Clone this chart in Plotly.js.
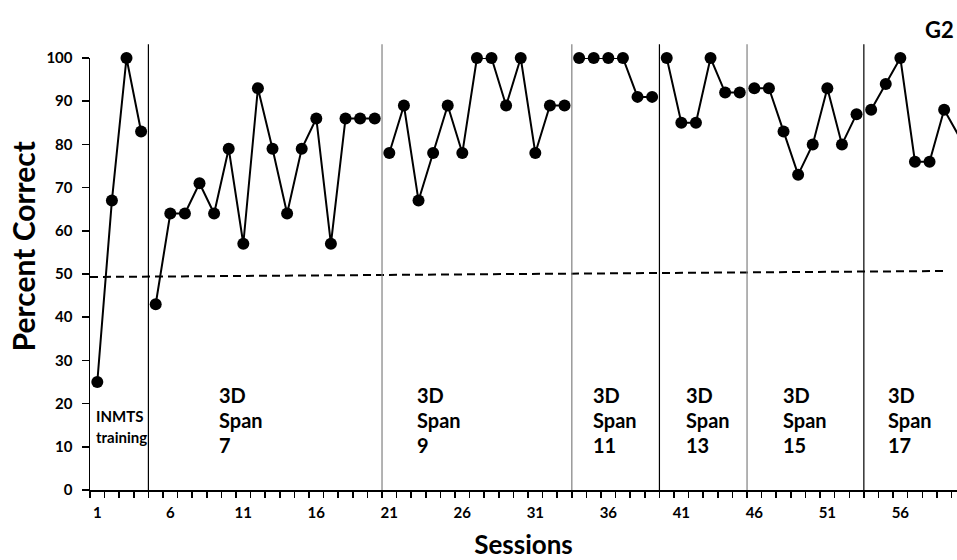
<!DOCTYPE html>
<html>
<head>
<meta charset="utf-8">
<script src="https://cdn.plot.ly/plotly-3.0.1.min.js"></script>
<style>
  html, body { margin: 0; padding: 0; background: #ffffff; }
  #chart { width: 957px; height: 560px; }
</style>
</head>
<body>
<div id="chart"></div>
<script>
// ---- Data ----
const sessions = [
  1, 2, 3, 4,
  5, 6, 7, 8, 9, 10, 11, 12, 13, 14, 15, 16, 17, 18, 19, 20,
  21, 22, 23, 24, 25, 26, 27, 28, 29, 30, 31, 32, 33,
  34, 35, 36, 37, 38, 39,
  40, 41, 42, 43, 44, 45,
  46, 47, 48, 49, 50, 51, 52, 53,
  54, 55, 56, 57, 58, 59, 60
];
const percentCorrect = [
  25, 67, 100, 83,
  43, 64, 64, 71, 64, 79, 57, 93, 79, 64, 79, 86, 57, 86, 86, 86,
  78, 89, 67, 78, 89, 78, 100, 100, 89, 100, 78, 89, 89,
  100, 100, 100, 100, 91, 91,
  100, 85, 85, 100, 92, 92,
  93, 93, 83, 73, 80, 93, 80, 87,
  88, 94, 100, 76, 76, 88, 82
];
// phase change lines (between sessions)
const phaseBounds = [4.5, 20.5, 33.5, 39.5, 45.5, 53.5];
const phaseLabels = [
  ['INMTS', 'training'],
  ['3D', 'Span', '7'],
  ['3D', 'Span', '9'],
  ['3D', 'Span', '11'],
  ['3D', 'Span', '13'],
  ['3D', 'Span', '15'],
  ['3D', 'Span', '17']
];
const chanceX = [0.5, 59.2];
const chanceY = [49.3, 50.7];
const xTickStart = 1, xTickStep = 5;
const yTickStep = 10;
const panelTitle = 'G2';
const xTitle = 'Sessions';
const yTitle = 'Percent Correct';

// ---- Layout helpers (positions / styles) ----
const FONT = 'Lato, "Open Sans", sans-serif';
const labelLeftX = [0.79, 9.22, 22.78, 34.81, 41.2, 47.85, 55.02];
const labelLineY3 = [22.1, 16.3, 10.5];
const labelLineY2 = [17.2, 12.2];
const boundColors = ['#000000', '#808080', '#808080', '#000000', '#808080', '#000000'];

// split data into phase segments (lines do not connect across phases)
const traces = [];
const edges = [-Infinity].concat(phaseBounds, [Infinity]);
for (let p = 0; p < edges.length - 1; p++) {
  const xs = [], ys = [];
  sessions.forEach((s, i) => {
    if (s > edges[p] && s < edges[p + 1]) { xs.push(s); ys.push(percentCorrect[i]); }
  });
  traces.push({
    x: xs, y: ys, type: 'scatter', mode: 'lines+markers',
    line: { color: '#000000', width: 2 },
    marker: { color: '#000000', size: 12 },
    cliponaxis: false, showlegend: false, hoverinfo: 'x+y'
  });
}
traces.push({
  x: chanceX, y: chanceY, type: 'scatter', mode: 'lines',
  line: { color: '#000000', width: 2, dash: '8px,5px' },
  showlegend: false, hoverinfo: 'skip'
});

const shapes = phaseBounds.map((b, i) => ({
  type: 'line', xref: 'x', yref: 'paper',
  x0: b, x1: b, y0: 0, y1: 1.032,
  line: { color: boundColors[i], width: 1.2 }
}));

const annotations = [];
phaseLabels.forEach((lines, i) => {
  const ys = lines.length === 2 ? labelLineY2 : labelLineY3;
  const size = lines.length === 2 ? 15 : 20;
  lines.forEach((t, j) => {
    annotations.push({
      text: t, x: labelLeftX[i], y: ys[j], xref: 'x', yref: 'y',
      xanchor: 'left', yanchor: 'middle', showarrow: false,
      font: { family: FONT, size: size, color: '#000000', weight: 'bold' }
    });
  });
});
annotations.push({
  text: panelTitle, xref: 'paper', yref: 'paper',
  x: 0.961, y: 1.066, xanchor: 'left', yanchor: 'middle', showarrow: false,
  font: { family: FONT, size: 22, color: '#000000', weight: 'bold' }
});
annotations.push({
  text: yTitle, xref: 'paper', yref: 'paper', textangle: -90,
  x: -0.0779, y: 0.565, xanchor: 'center', yanchor: 'middle', showarrow: false,
  font: { family: FONT, size: 30, color: '#000000', weight: 'bold' }
});

const layout = {
  width: 957, height: 560,
  margin: { l: 90, r: 0, t: 58, b: 70, pad: 0 },
  paper_bgcolor: '#ffffff', plot_bgcolor: '#ffffff',
  font: { family: FONT, color: '#000000' },
  xaxis: {
    range: [0.5, 59.88], showline: true, linecolor: '#000000', linewidth: 1.5,
    showgrid: false, zeroline: false, automargin: false,
    tickmode: 'linear', tick0: xTickStart, dtick: xTickStep,
    ticks: 'outside', ticklen: 8, tickcolor: 'rgba(0,0,0,0)',
    tickfont: { family: FONT, size: 15, color: '#000000', weight: 'bold' },
    minor: { ticks: 'outside', ticklen: 6, tickwidth: 1.5, tickcolor: '#000000', tick0: 0.5, dtick: 1, showgrid: false },
    title: { text: xTitle, standoff: 18, font: { family: FONT, size: 26, color: '#000000', weight: 'bold' } }
  },
  yaxis: {
    range: [0, 100], showline: true, linecolor: '#000000', linewidth: 1.5,
    showgrid: false, zeroline: false, automargin: false,
    tickmode: 'linear', tick0: 0, dtick: yTickStep,
    ticks: 'outside', ticklen: 7, tickwidth: 1.5, tickcolor: '#000000',
    ticklabelstandoff: 6,
    tickfont: { family: FONT, size: 15, color: '#000000', weight: 'bold' }
  },
  shapes: shapes,
  annotations: annotations
};

Plotly.newPlot('chart', traces, layout, { displayModeBar: false, staticPlot: true });
</script>
</body>
</html>
